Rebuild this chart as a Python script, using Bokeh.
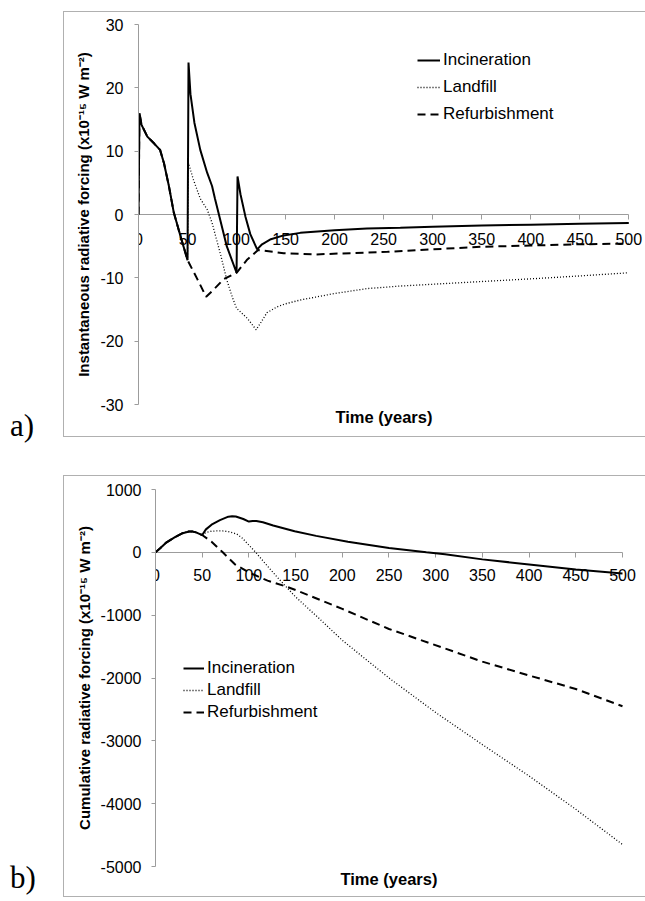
from bokeh.plotting import figure
from bokeh.layouts import column, row
from bokeh.models import FixedTicker, Legend, LegendItem, Title, Div, Spacer, Range1d
from bokeh.embed import file_html
from bokeh.resources import INLINE

# ---------------- data ----------------
x_ticks = [0, 50, 100, 150, 200, 250, 300, 350, 400, 450, 500]
x_tick_labels = ["0", "50", "100", "150", "200", "250", "300", "350", "400", "450", "500"]

y_ticks_a = [-30, -20, -10, 0, 10, 20, 30]
y_tick_labels_a = ["-30", "-20", "-10", "0", "10", "20", "30"]
y_ticks_b = [-5000, -4000, -3000, -2000, -1000, 0, 1000]
y_tick_labels_b = ["-5000", "-4000", "-3000", "-2000", "-1000", "0", "1000"]

series_names = ["Incineration", "Landfill", "Refurbishment"]

# a) instantaneous radiative forcing (x10^-15 W m^-2); first 50 years shared by all options
years_shared_a = [0, 1, 3, 9, 16, 22, 26, 31, 36, 43, 50]
inst_shared = [0, 16.0, 14.2, 12.3, 11.2, 10.2, 8.1, 4.5, 0.3, -3.5, -7.2]

years_inc_a = [51, 53, 57, 63, 70, 75, 78, 82, 90, 100, 101, 104, 109, 114, 121, 126, 135,
               148, 165, 200, 233, 267, 300, 350, 400, 450, 500]
inst_inc = [24.0, 19.0, 14.5, 10.2, 6.6, 4.5, 2.5, 0.0, -5.0, -9.2, 6.0, 3.2, -0.3, -3.1, -5.5,
            -4.7, -3.9, -3.3, -2.9, -2.5, -2.2, -2.1, -1.95, -1.75, -1.6, -1.45, -1.35]

years_lf_a = [51, 56, 63, 70, 75, 84, 90, 96, 100, 111, 120, 125, 131, 141, 150, 165, 199,
              233, 267, 313, 360, 407, 450, 500]
inst_lf = [8.1, 5.5, 2.5, 0.8, -1.3, -6.5, -10.3, -13.2, -14.8, -16.4, -18.2, -17.0, -15.5,
           -14.6, -14.1, -13.5, -12.5, -11.7, -11.3, -10.9, -10.5, -10.1, -9.7, -9.2]

years_rf_a = [60, 69, 77, 87, 100, 111, 122, 148, 181, 216, 254, 300, 350, 400, 450, 500]
inst_rf = [-10.2, -13.0, -11.8, -10.2, -9.2, -7.1, -5.6, -6.1, -6.3, -6.1, -5.9, -5.5, -5.1,
           -4.9, -4.7, -4.6]

# b) cumulative radiative forcing (x10^-15 W m^-2)
years_shared_b = [0, 5, 11, 20, 29, 36, 40, 44, 50]
cum_shared = [0, 65, 150, 235, 305, 333, 330, 315, 275]

years_inc_b = [54, 61, 69, 78, 82, 86, 94, 100, 104, 108, 115, 126, 149, 172, 206, 250, 290,
               310, 350, 400, 450, 500]
cum_inc = [365, 450, 513, 568, 575, 570, 530, 490, 500, 500, 480, 428, 336, 262, 170, 70, 0,
           -32, -112, -193, -273, -337]

years_lf_b = [54, 60, 66, 72, 78, 87, 93, 100, 107, 113, 120, 130, 140, 150, 175, 200, 250,
              300, 350, 400, 450, 500]
cum_lf = [315, 336, 342, 340, 330, 292, 225, 115, 5, -100, -220, -390, -550, -710, -1050,
          -1400, -2000, -2550, -3060, -3560, -4090, -4650]

years_rf_b = [60, 72, 85, 100, 120, 140, 150, 200, 250, 310, 350, 400, 450, 500]
cum_rf = [170, 0, -190, -320, -450, -545, -600, -900, -1220, -1530, -1740, -1960, -2175, -2450]

# ---------------- styling ----------------
FONT = "Liberation Sans"
AXIS_GRAY = "#9c9c9c"
BOX_GRAY = "#b0b0b0"
X_END = 515  # a little room right of 500 so the last tick label is not clipped


def build_panel(height, mbl, mbr, mbt, mbb, y_range, y_ticks, y_labels, y_title,
                x_std, y_std, series, legend_loc, legend_spacing, glyph_w, lab_std,
                xt_std, xt_off):
    p = figure(width=582, height=height, x_range=Range1d(0, X_END),
               y_range=Range1d(*y_range),
               output_backend="svg", toolbar_location=None,
               min_border_left=mbl, min_border_right=mbr, min_border_top=mbt,
               min_border_bottom=mbb)
    p.title.visible = False
    p.background_fill_color = None
    p.border_fill_color = None
    p.outline_line_color = None
    p.xgrid.visible = False
    p.ygrid.visible = False
    p.styles = {"box-shadow": f"inset 1px 1px 0 {BOX_GRAY}, inset 0 -1px 0 {BOX_GRAY}"}

    styles = [dict(line_width=2.0, line_dash="solid"),
              dict(line_width=1.3, line_dash="1 2"),
              dict(line_width=2.0, line_dash="8 5")]
    renderers = {}
    # draw landfill and refurbishment first, incineration on top
    for idx in (1, 2, 0):
        xs, ys = series[idx]
        renderers[idx] = p.line(xs, ys, line_color="black", **styles[idx])

    xa = p.xaxis[0]
    xa.fixed_location = 0
    xa.bounds = (x_ticks[0], x_ticks[-1])
    xa.ticker = FixedTicker(ticks=x_ticks)
    xa.major_label_overrides = dict(zip(x_ticks, x_tick_labels))
    xa.axis_line_color = AXIS_GRAY
    xa.major_tick_line_color = AXIS_GRAY
    xa.major_tick_out = 5
    xa.major_tick_in = 0
    xa.minor_tick_line_color = None
    xa.major_label_text_font = FONT
    xa.major_label_text_font_size = "16px"
    xa.major_label_text_color = "black"
    xa.major_label_standoff = x_std
    xa.level = "underlay"

    ya = p.yaxis[0]
    ya.ticker = FixedTicker(ticks=y_ticks)
    ya.major_label_overrides = dict(zip(y_ticks, y_labels))
    ya.axis_line_color = AXIS_GRAY
    ya.major_tick_line_color = AXIS_GRAY
    ya.major_tick_out = 4
    ya.major_tick_in = 0
    ya.minor_tick_line_color = None
    ya.major_label_text_font = FONT
    ya.major_label_text_font_size = "16px"
    ya.major_label_text_color = "black"
    ya.major_label_standoff = y_std
    ya.axis_label = y_title
    ya.axis_label_text_font = FONT
    ya.axis_label_text_font_style = "bold"
    ya.axis_label_text_font_size = "15px"
    ya.axis_label_text_color = "black"
    ya.axis_label_standoff = 5

    p.add_layout(Title(text="Time (years)", align="left", text_font=FONT,
                       text_font_style="bold", text_font_size="16.5px", text_color="black",
                       standoff=xt_std, offset=xt_off), "below")

    legend = Legend(items=[LegendItem(label=series_names[i], renderers=[renderers[i]])
                           for i in range(3)],
                    location=legend_loc, orientation="vertical", padding=0, margin=0,
                    spacing=legend_spacing, glyph_width=glyph_w, glyph_height=20,
                    label_height=20, label_standoff=lab_std, label_text_font=FONT,
                    label_text_font_size="17px", label_text_color="black",
                    border_line_color=None, background_fill_color=None)
    p.add_layout(legend)
    return p


series_a = [(years_shared_a + years_inc_a, inst_shared + inst_inc),
            (years_shared_a + years_lf_a, inst_shared + inst_lf),
            (years_shared_a + years_rf_a, inst_shared + inst_rf)]
series_b = [(years_shared_b + years_inc_b, cum_shared + cum_inc),
            (years_shared_b + years_lf_b, cum_shared + cum_lf),
            (years_shared_b + years_rf_b, cum_shared + cum_rf)]

pa = build_panel(426, 75, 2, 13, 33, (-30, 30), y_ticks_a, y_tick_labels_a,
                 "Instantaneous radiative forcing (x10\u207b\u00b9\u2075 W m\u207b\u00b2)",
                 13, 11, series_a, (279, 280.5), 7, 23, 3, 2, 197)
pb = build_panel(422, 92, 9, 14, 31, (-5000, 1000), y_ticks_b, y_tick_labels_b,
                 "Cumulative radiative forcing (x10\u207b\u00b9\u2075 W m\u207b\u00b2)",
                 12, 10, series_b, (28, 144.5), 2, 21, 3, 2, 185)

letter_style = ("position:absolute;left:10px;font-family:'Liberation Serif',serif;"
                "font-size:31px;line-height:31px;color:black;")
letters = Div(text=('<div style="position:relative;width:63px;height:897px;overflow:hidden;">'
                    f'<div style="{letter_style}top:410px;">a)</div>'
                    f'<div style="{letter_style}top:862px;">b)</div></div>'),
              width=63, height=897, margin=0)

right_col = column(Spacer(width=582, height=11), row(pa), Spacer(width=582, height=38), row(pb))
layout = row(letters, right_col)

open("out.html", "w", encoding="utf-8").write(file_html(layout, INLINE, "Radiative forcing"))
